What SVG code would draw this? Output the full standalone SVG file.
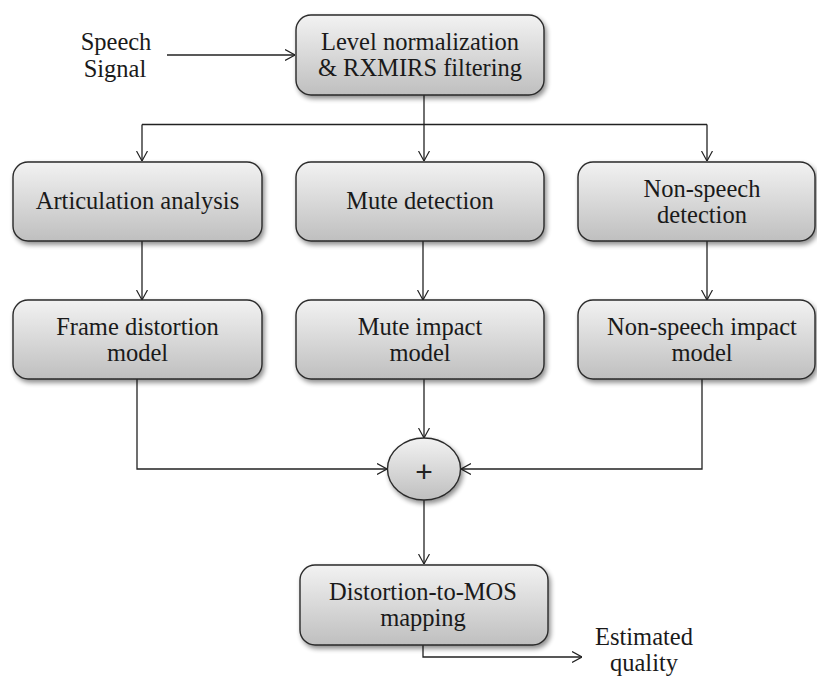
<svg xmlns="http://www.w3.org/2000/svg" width="817" height="678" viewBox="0 0 817 678">
<defs>
<linearGradient id="g" x1="0" y1="0" x2="0" y2="1">
<stop offset="0" stop-color="#f2f2f2"/>
<stop offset="1" stop-color="#bfbfbf"/>
</linearGradient>
<filter id="sh" x="-10%" y="-10%" width="125%" height="135%">
<feGaussianBlur in="SourceAlpha" stdDeviation="2.5"/>
<feOffset dx="2" dy="3" result="b"/>
<feComponentTransfer><feFuncA type="linear" slope="0.45"/></feComponentTransfer>
<feMerge><feMergeNode/><feMergeNode in="SourceGraphic"/></feMerge>
</filter>
<marker id="ar" viewBox="0 0 10 12" refX="10" refY="6" markerWidth="10" markerHeight="12" markerUnits="userSpaceOnUse" orient="auto">
<path d="M0,0.5 L10,6 L0,11.5" fill="none" stroke="#222" stroke-width="1.2"/>
</marker>
<style>
.box{fill:url(#g);stroke:#2a2a2a;stroke-width:1.4;filter:url(#sh)}
.t{font-family:"Liberation Serif","Times New Roman",serif;font-size:24.5px;fill:#1a1a1a;text-anchor:middle}
.c{fill:none;stroke:#222;stroke-width:1.3}
.a{marker-end:url(#ar)}
</style>
</defs>
<g id="connectors">
<path class="c a" d="M167,55 H295"/>
<path class="c" d="M424,95 V124.5"/>
<path class="c" d="M142,124.5 H707"/>
<path class="c a" d="M142,124.5 V161"/>
<path class="c a" d="M424,124.5 V161"/>
<path class="c a" d="M707,124.5 V161"/>
<path class="c a" d="M142,241 V300"/>
<path class="c a" d="M423,241 V300"/>
<path class="c a" d="M707,241 V300"/>
<path class="c a" d="M137,379 V469 H387"/>
<path class="c a" d="M702,379 V469 H461"/>
<path class="c a" d="M424,379 V438"/>
<path class="c a" d="M424,500 V564"/>
<path class="c a" d="M423,645 V657 H582"/>
</g>
<g id="input-label">
<text class="t" x="116" y="49.5">Speech</text>
<text class="t" x="115" y="77">Signal</text>
</g>
<g id="level-norm">
<rect class="box" x="296" y="15" width="248" height="80" rx="15"/>
<text class="t" x="420" y="49.5">Level normalization</text>
<text class="t" x="420" y="76">&amp; RXMIRS filtering</text>
</g>
<g id="articulation">
<rect class="box" x="13" y="162" width="249" height="79" rx="15"/>
<text class="t" x="137.5" y="209">Articulation analysis</text>
</g>
<g id="mute-detection">
<rect class="box" x="296" y="162" width="248" height="79" rx="15"/>
<text class="t" x="420" y="209">Mute detection</text>
</g>
<g id="nonspeech-detection">
<rect class="box" x="578" y="162" width="237" height="79" rx="15"/>
<text class="t" x="702" y="196.5">Non-speech</text>
<text class="t" x="702" y="223">detection</text>
</g>
<g id="frame-distortion">
<rect class="box" x="13" y="300" width="249" height="79" rx="15"/>
<text class="t" x="137.5" y="334.5">Frame distortion</text>
<text class="t" x="137.5" y="361">model</text>
</g>
<g id="mute-impact">
<rect class="box" x="296" y="300" width="248" height="79" rx="15"/>
<text class="t" x="420" y="334.5">Mute impact</text>
<text class="t" x="420" y="361">model</text>
</g>
<g id="nonspeech-impact">
<rect class="box" x="578" y="300" width="237" height="79" rx="15"/>
<text class="t" x="702" y="334.5">Non-speech impact</text>
<text class="t" x="702" y="361">model</text>
</g>
<g id="sum">
<ellipse class="box" cx="424" cy="469" rx="36.5" ry="31"/>
<text x="424" y="482" style="font-family:'Liberation Sans',Arial,sans-serif;font-size:30px;fill:#222;text-anchor:middle">+</text>
</g>
<g id="mos-mapping">
<rect class="box" x="300" y="565" width="248" height="80" rx="15"/>
<text class="t" x="423" y="599.5">Distortion-to-MOS</text>
<text class="t" x="423" y="626">mapping</text>
</g>
<g id="output-label">
<text class="t" x="644" y="644.5">Estimated</text>
<text class="t" x="644" y="671">quality</text>
</g>
</svg>
